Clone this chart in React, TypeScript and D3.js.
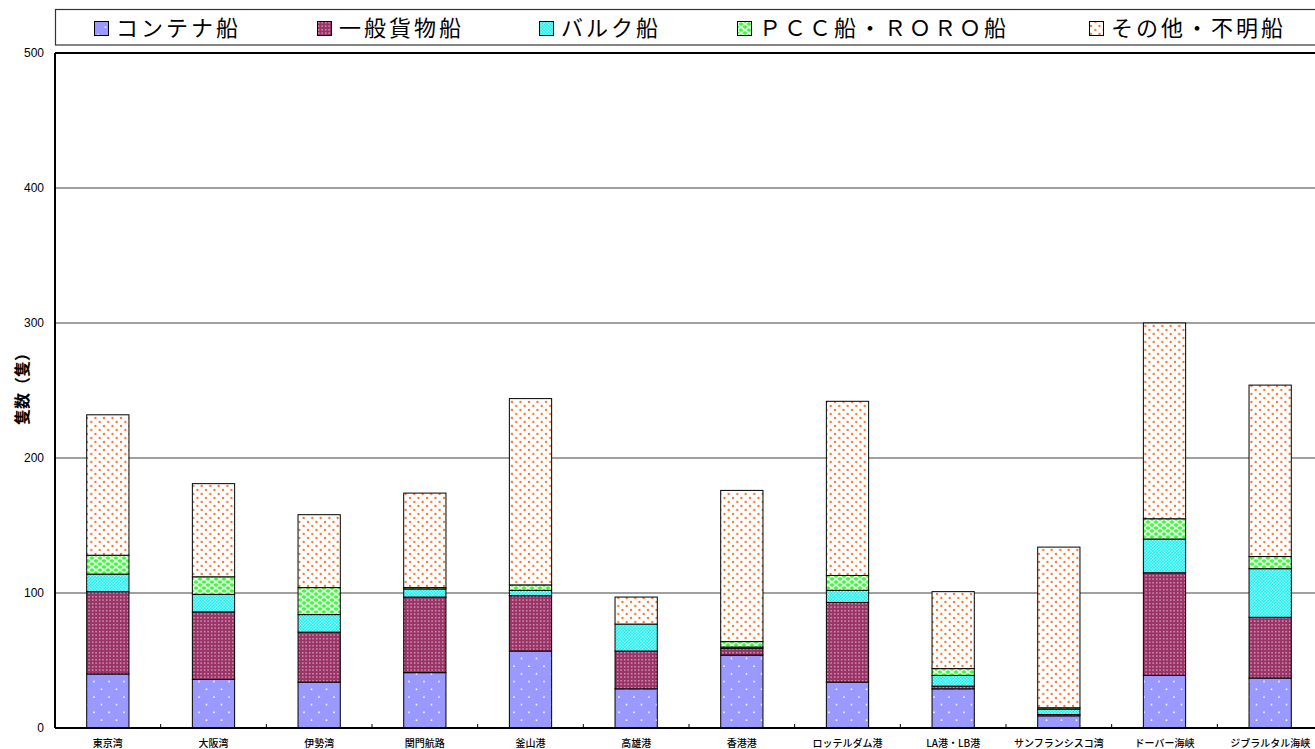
import React, { useEffect, useRef } from "react";
import * as d3 from "d3";

// ship counts by area (stacked, bottom to top)
const categories = [
  "東京湾", "大阪湾", "伊勢湾", "関門航路", "釜山港", "高雄港",
  "香港港", "ロッテルダム港", "LA港・LB港", "サンフランシスコ湾", "ドーバー海峡", "ジブラルタル海峡",
];
const container = [40, 36, 34, 41, 57, 29, 54, 34, 29, 9, 39, 37];
const general = [61, 50, 37, 56, 41, 28, 5, 59, 2, 1, 76, 45];
const bulk = [13, 13, 13, 6, 4, 20, 1, 9, 8, 4, 25, 36];
const pcc = [14, 13, 20, 1, 4, 0, 4, 11, 5, 1, 15, 9];
const other = [104, 69, 54, 70, 138, 20, 112, 129, 57, 119, 145, 127];

const seriesNames = ["コンテナ船", "一般貨物船", "バルク船", "ＰＣＣ船・ＲＯＲＯ船", "その他・不明船"];
const yTicks = [0, 100, 200, 300, 400, 500];

const patternIds = ["pContainer", "pGeneral", "pBulk", "pPcc", "pOther"];

const App = () => {
  const svgRef = useRef<SVGSVGElement | null>(null);

  useEffect(() => {
    document.body.style.margin = "0";

    const width = 1315;
    const height = 749;
    const marginLeft = 55;
    const plotRight = 1323;
    const marginTop = 53;
    const baseY = 728;

    const svg = d3.select(svgRef.current)
      .attr("width", width)
      .attr("height", height)
      .attr("viewBox", `0 0 ${width} ${height}`);
    svg.selectAll("*").remove();

    // patterns
    const defs = svg.append("defs");

    const pc = defs.append("pattern").attr("id", "pContainer")
      .attr("patternUnits", "userSpaceOnUse").attr("width", 15).attr("height", 15.4);
    pc.append("rect").attr("width", 15).attr("height", 15.4).attr("fill", "#9999ff");
    pc.append("circle").attr("cx", 4).attr("cy", 4).attr("r", 0.9).attr("fill", "#ffffff");
    pc.append("circle").attr("cx", 11.5).attr("cy", 11.7).attr("r", 0.9).attr("fill", "#ffffff");

    const pg = defs.append("pattern").attr("id", "pGeneral")
      .attr("patternUnits", "userSpaceOnUse").attr("width", 3.5).attr("height", 3.5);
    pg.append("rect").attr("width", 3.5).attr("height", 3.5).attr("fill", "#993366");
    pg.append("rect").attr("x", 1).attr("y", 1).attr("width", 1.3).attr("height", 1.3).attr("fill", "#e6c3d4");

    const pb = defs.append("pattern").attr("id", "pBulk")
      .attr("patternUnits", "userSpaceOnUse").attr("width", 3).attr("height", 3);
    pb.append("rect").attr("width", 3).attr("height", 3).attr("fill", "#1ef0f0");
    pb.append("rect").attr("x", 0).attr("y", 0).attr("width", 1.2).attr("height", 1.2).attr("fill", "#c8ffff");
    pb.append("rect").attr("x", 1.5).attr("y", 1.5).attr("width", 1.2).attr("height", 1.2).attr("fill", "#c8ffff");

    const pp = defs.append("pattern").attr("id", "pPcc")
      .attr("patternUnits", "userSpaceOnUse").attr("width", 8).attr("height", 6);
    pp.append("rect").attr("width", 8).attr("height", 6).attr("fill", "#33ff33");
    pp.append("path").attr("d", "M0,0L8,6M8,0L0,6").attr("stroke", "#e8ffe8").attr("stroke-width", 1.6);

    const po = defs.append("pattern").attr("id", "pOther")
      .attr("patternUnits", "userSpaceOnUse").attr("width", 8.5).attr("height", 8);
    po.append("rect").attr("width", 8.5).attr("height", 8).attr("fill", "#ffffff");
    po.append("circle").attr("cx", 2).attr("cy", 2).attr("r", 1.15).attr("fill", "#ff6a1a");
    po.append("circle").attr("cx", 6.25).attr("cy", 6).attr("r", 1.15).attr("fill", "#ff6a1a");

    // scales
    const x = d3.scaleBand<string>()
      .domain(categories)
      .range([marginLeft, plotRight])
      .paddingInner(0.6)
      .paddingOuter(0.3);

    const y = d3.scaleLinear()
      .domain([0, 500])
      .range([baseY, marginTop]);

    // gridlines
    svg.append("g")
      .selectAll("line")
      .data(yTicks.filter(t => t > 0 && t < 500))
      .join("line")
      .attr("x1", marginLeft)
      .attr("x2", plotRight)
      .attr("y1", d => y(d))
      .attr("y2", d => y(d))
      .attr("stroke", "#808080")
      .attr("stroke-width", 1.6);

    // stacked bars
    const table = categories.map((c, i) => ({
      cat: c,
      s0: container[i], s1: general[i], s2: bulk[i], s3: pcc[i], s4: other[i],
    }));
    const stack = d3.stack<any>().keys(["s0", "s1", "s2", "s3", "s4"]);
    const series = stack(table);

    svg.append("g")
      .selectAll("g")
      .data(series)
      .join("g")
      .attr("fill", (_d, i) => `url(#${patternIds[i]})`)
      .selectAll("rect")
      .data(d => d.filter(p => p[1] - p[0] > 0))
      .join("rect")
      .attr("x", d => x(d.data.cat) as number)
      .attr("width", x.bandwidth())
      .attr("y", d => y(d[1]))
      .attr("height", d => y(d[0]) - y(d[1]))
      .attr("stroke", "#000")
      .attr("stroke-width", 1);

    // frame: left axis, top, bottom
    svg.append("line")
      .attr("x1", marginLeft).attr("x2", marginLeft)
      .attr("y1", marginTop).attr("y2", baseY)
      .attr("stroke", "#000").attr("stroke-width", 2);
    svg.append("line")
      .attr("x1", marginLeft).attr("x2", plotRight)
      .attr("y1", marginTop).attr("y2", marginTop)
      .attr("stroke", "#000").attr("stroke-width", 2);
    svg.append("line")
      .attr("x1", marginLeft).attr("x2", plotRight)
      .attr("y1", baseY).attr("y2", baseY)
      .attr("stroke", "#000").attr("stroke-width", 2.2);

    // x category boundary ticks
    const step = x.step();
    svg.append("g")
      .selectAll("line")
      .data(categories.slice(1))
      .join("line")
      .attr("x1", d => (x(d) as number) - step * 0.3)
      .attr("x2", d => (x(d) as number) - step * 0.3)
      .attr("y1", baseY)
      .attr("y2", baseY - 4)
      .attr("stroke", "#000");

    // y tick labels
    svg.append("g")
      .selectAll("text")
      .data(yTicks)
      .join("text")
      .attr("x", 44)
      .attr("y", d => y(d))
      .attr("dy", "0.35em")
      .attr("text-anchor", "end")
      .attr("font-family", "'Liberation Sans Narrow', 'Liberation Sans', Arial, sans-serif")
      .attr("font-size", 12)
      .attr("fill", "#000")
      .text(d => d);

    // x labels
    svg.append("g")
      .selectAll("text")
      .data(categories)
      .join("text")
      .attr("x", d => (x(d) as number) + x.bandwidth() / 2)
      .attr("y", 743)
      .attr("dy", "0.35em")
      .attr("text-anchor", "middle")
      .attr("font-family", "'Noto Sans CJK JP', sans-serif")
      .attr("font-size", 10)
      .attr("font-weight", 500)
      .attr("fill", "#000")
      .text(d => d);

    // y title
    svg.append("text")
      .attr("transform", "translate(22,385) rotate(-90)")
      .attr("text-anchor", "middle")
      .attr("dy", "0.35em")
      .attr("font-family", "'Noto Sans CJK JP', sans-serif")
      .attr("font-size", 16)
      .attr("font-weight", 700)
      .attr("fill", "#000")
      .text("隻数（隻）");

    // legend
    svg.append("rect")
      .attr("x", 55.5).attr("y", 9.5)
      .attr("width", 1300).attr("height", 35.5)
      .attr("fill", "#fff")
      .attr("stroke", "#333").attr("stroke-width", 1.2);

    const legendX = [94, 317, 539, 737, 1089];
    const lg = svg.append("g")
      .selectAll("g")
      .data(seriesNames)
      .join("g")
      .attr("transform", (_d, i) => `translate(${legendX[i]},0)`);
    lg.append("rect")
      .attr("x", 0.5).attr("y", 21.5)
      .attr("width", 14).attr("height", 14)
      .attr("fill", (_d, i) => `url(#${patternIds[i]})`)
      .attr("stroke", "#000").attr("stroke-width", 1);
    lg.append("text")
      .attr("x", 22)
      .attr("y", 28.5)
      .attr("dy", "0.35em")
      .attr("font-family", "'Noto Sans CJK JP', sans-serif")
      .attr("font-size", 22)
      .attr("letter-spacing", 3)
      .attr("fill", "#000")
      .text(d => d);
  }, []);

  return <svg ref={svgRef}></svg>;
};

export default App;
